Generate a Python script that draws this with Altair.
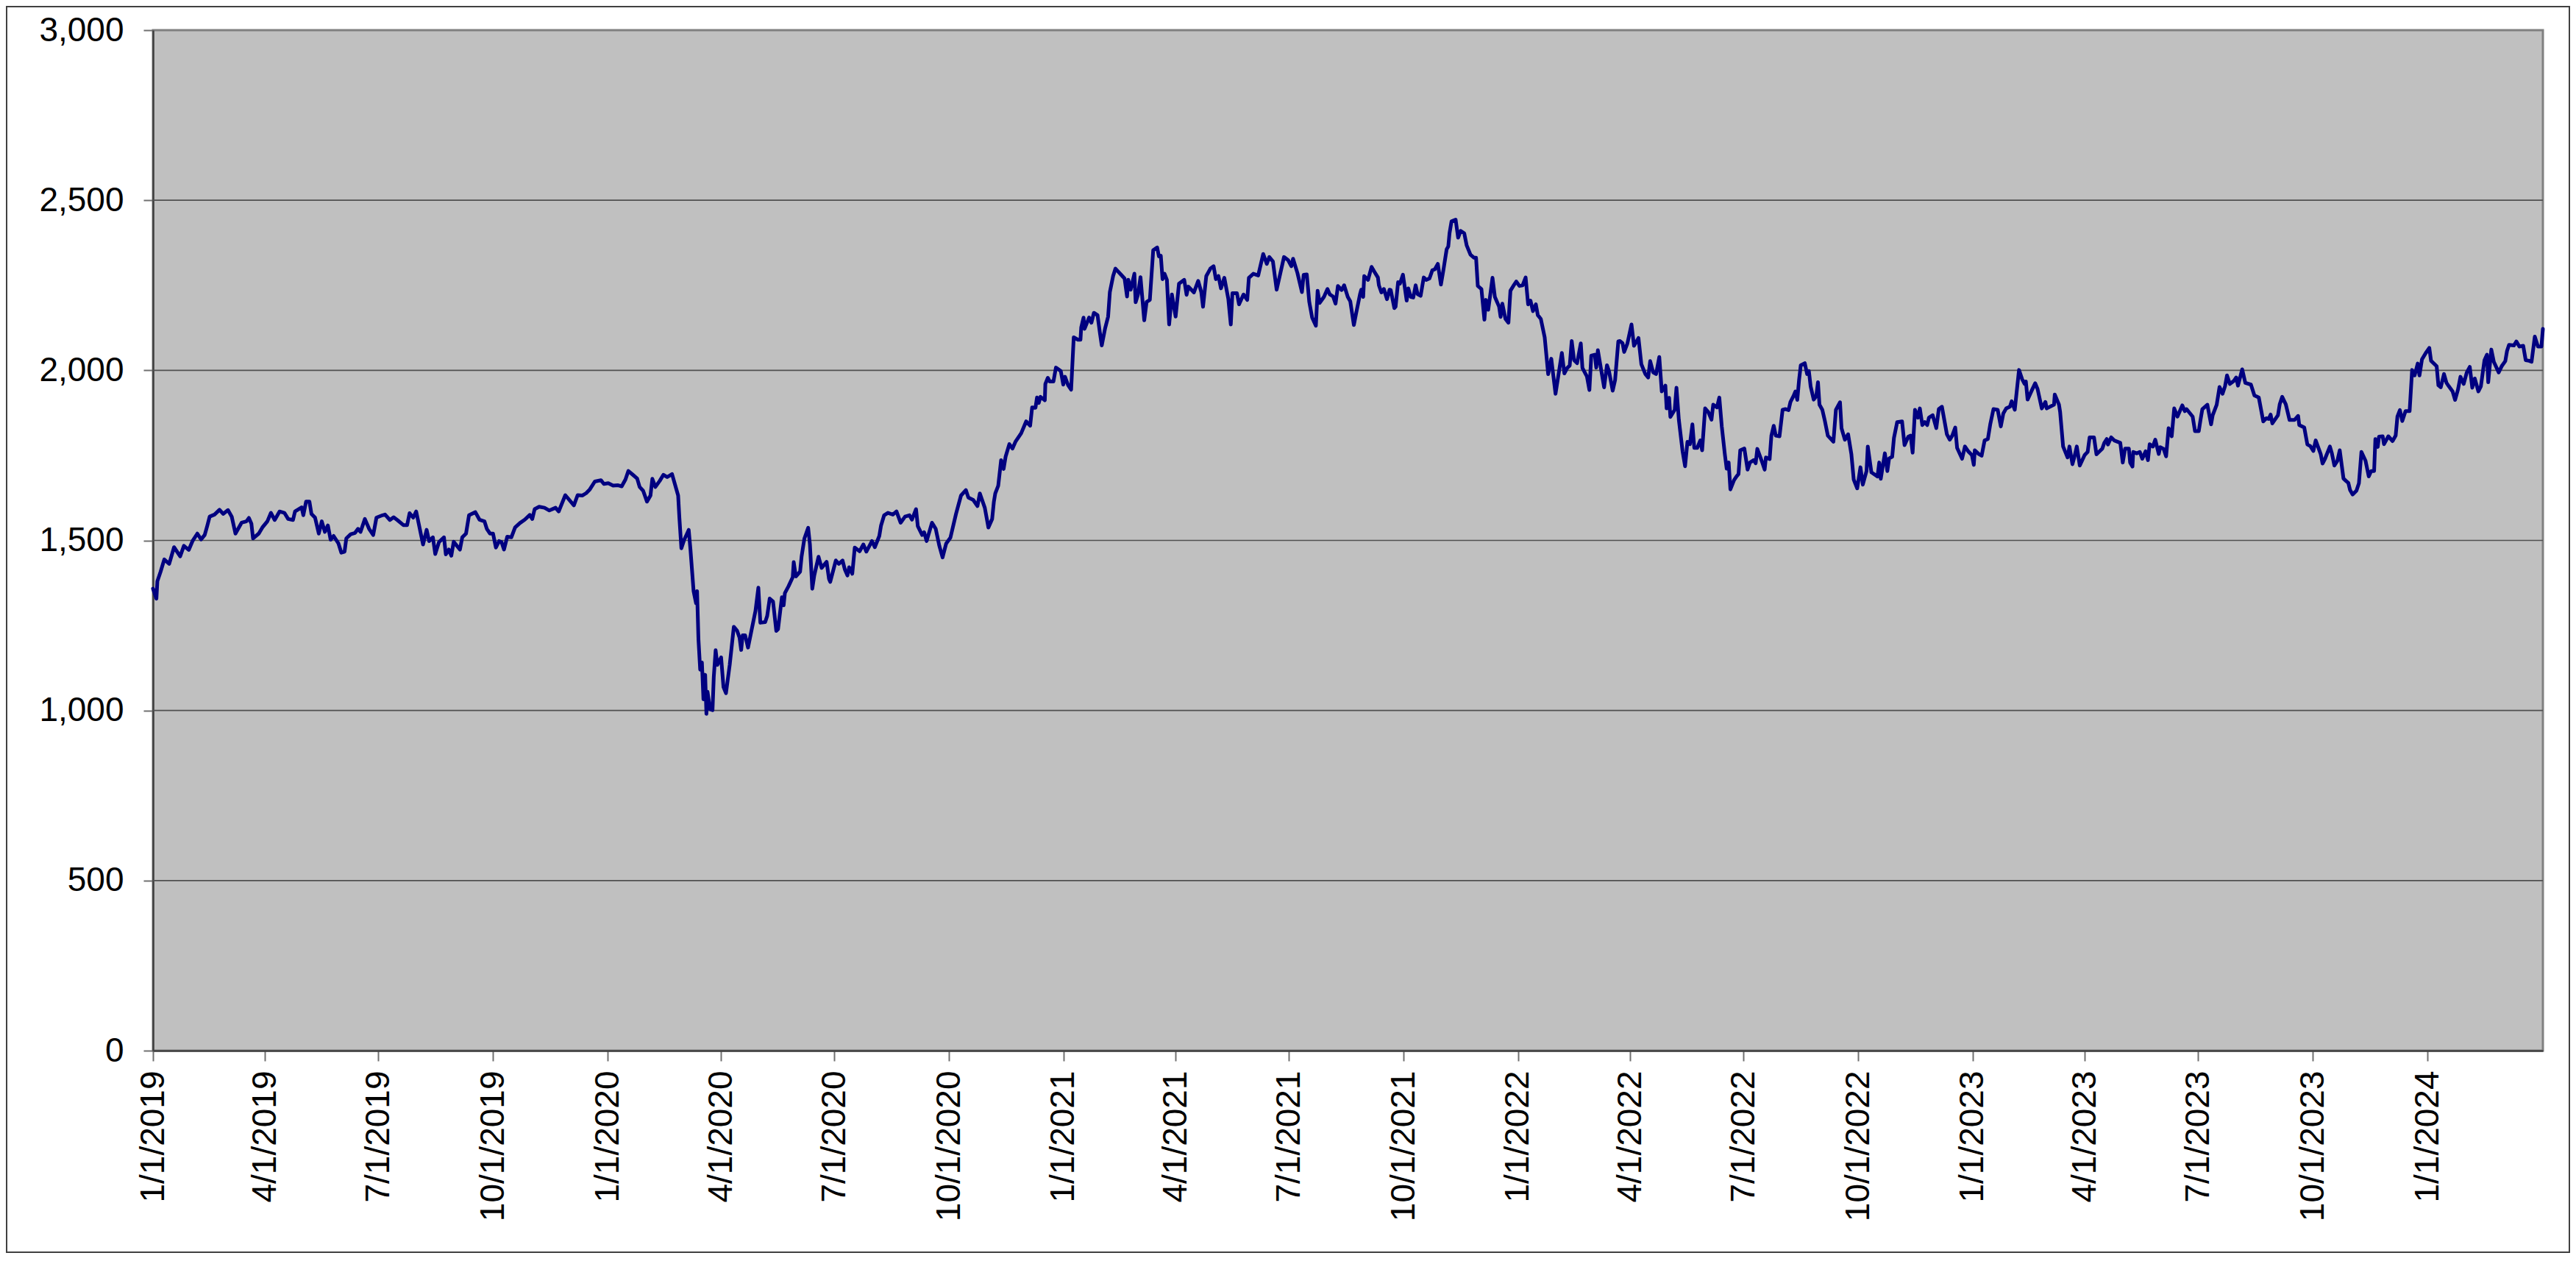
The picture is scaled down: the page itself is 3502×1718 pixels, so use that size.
import altair as alt
import pandas as pd

# x values are days after 1/1/2019; y values are index levels
START = "2019-01-01"

days_a = [0, 2.75, 3.5, 6.1, 9.05, 13.0, 16.9, 21.8, 24.8, 28.7, 31.7, 35.6, 38.6, 41.5, 43.5, 45.5,
          49.4, 53.4, 56.3, 60.2, 63.2, 66.2, 71.1, 75, 77, 79, 80.3, 84.9, 87.8, 91.8, 94.7, 97.7,
          101.6, 105.5, 108.5, 112.4, 114, 119.3, 120.7, 122.9, 125.6, 127.2, 130.1, 133.1, 135.5,
          138, 140.4, 142.6, 145, 148.9, 151.2, 153.8, 155.2, 158.7, 162.2, 164.6, 166.6, 170.1,
          173.5, 176.8, 179.4, 184.3, 186.3, 190.2, 193.2, 196.1, 201, 204, 206, 208.9, 211.3,
          216.8, 219.7, 221.7, 224.7, 226.6, 229.6]
vals_a = [1358, 1329, 1380, 1408, 1444, 1431, 1480, 1453, 1484, 1472, 1498, 1520, 1503, 1516, 1542, 1570,
          1576, 1590, 1578, 1589, 1570, 1520, 1552, 1556, 1566, 1549, 1506, 1520, 1538, 1556, 1581, 1560,
          1585, 1581, 1563, 1560, 1585, 1597, 1574, 1614, 1614, 1578, 1567, 1520, 1556,
          1525, 1544, 1502, 1513, 1491, 1464, 1467, 1506, 1518, 1522, 1534, 1525, 1563,
          1534, 1516, 1567, 1574, 1576, 1560, 1568, 1560, 1545, 1545, 1580, 1567, 1585,
          1488, 1531, 1498, 1509, 1460, 1495]

days_b = [233.6, 235.1, 237.5, 239.5, 241.4, 246.4, 248.3, 251.3, 253.7, 258.8, 262.1, 266.1, 268,
          270.6, 273, 275.3, 277.9, 279.8, 281.8, 284.4, 287.7, 290.7, 294.6, 298.5, 302.5, 304.5,
          306.4, 310, 314.3, 318.2, 323.2, 325.7, 331, 337.9, 340.9, 344.8, 347.8, 350.7, 354.7,
          359.6, 362, 365.5, 369.4, 373.4, 376.3, 379.3, 381.6, 385.2, 388.7, 390.7, 393.5, 396.6,
          399.4, 400.9, 403.3, 406.8, 409.8, 412.8, 416.7, 421.6, 422.6, 424.2, 426.5, 428.5, 430.1,
          431.5, 434, 436, 436.8, 437.9, 439.3, 440.7, 441.9, 443.3, 444.3, 445.2, 447.2, 449.2,
          450.2, 451.7, 453.1, 456.1, 458, 460, 463, 466.3]
vals_b = [1509, 1459, 1473, 1455, 1496, 1473, 1509, 1520, 1574, 1583, 1561, 1556, 1534,
          1520, 1520, 1479, 1498, 1495, 1473, 1511, 1509, 1538, 1551, 1561, 1575, 1563,
          1592, 1599, 1596, 1588, 1596, 1585, 1633, 1603, 1633, 1632, 1639, 1650, 1673,
          1677, 1666, 1668, 1661, 1662, 1659, 1679, 1704, 1693, 1682, 1657, 1646, 1614,
          1632, 1681, 1657, 1675, 1693, 1686, 1695, 1632, 1567, 1477, 1502, 1518, 1531,
          1473, 1351, 1315, 1351, 1210, 1120, 1141, 1033, 1105, 990, 1055, 1004, 1001,
          1098, 1177, 1134, 1156, 1069, 1051, 1134, 1246]

days_c = [468.9, 470.9, 472.2, 473.4, 475.4, 477.7, 483.7, 486, 487.6, 491.5, 493.1, 495.1, 497.8,
          500.4, 501.8, 504.9, 506.3, 507.3, 510.2, 513.6, 514.4, 516.1, 519.5, 520.7, 523, 526,
          527.4, 529.3, 530.9, 534.3, 536.8, 540.8, 542.7, 543.7, 548.2, 550.6, 553.6, 555.5, 557.5,
          558.9, 561.4, 563.4, 567.3, 570.3, 572.7, 575.2, 577.2, 579.5, 583.1, 584.5, 587, 590, 594,
          596.9, 600.2, 603.8, 607.3, 609.3, 612.6, 614, 617.5, 619.1, 621.1, 625.4, 628.4, 631.3,
          633.9, 636.8, 640.2, 644.7, 648.7, 652.6, 654.6, 658.5, 661.9, 663.8, 667.8, 670.7, 673.7,
          675.1, 676.2, 678.6, 680.9, 682.9, 684.5, 687.5, 690, 692.4, 697, 701]
vals_c = [1235, 1214, 1178, 1221, 1221, 1185, 1293, 1361, 1258, 1260, 1278, 1329, 1320,
          1234, 1239, 1333, 1309, 1345, 1365, 1392, 1436, 1394, 1408, 1452, 1506, 1537,
          1488, 1358, 1397, 1452, 1419, 1437, 1387, 1378, 1441, 1431, 1441, 1414, 1397,
          1421, 1402, 1479, 1468, 1488, 1467, 1484, 1498, 1480, 1513, 1544, 1574, 1581, 1576,
          1585, 1552, 1570, 1574, 1561, 1592, 1542, 1516, 1524, 1498, 1552, 1534, 1484,
          1450, 1491, 1508, 1578, 1632, 1648, 1626, 1619, 1601, 1638, 1596, 1538, 1563,
          1614, 1638, 1661, 1736, 1710, 1746, 1783, 1770, 1790, 1815, 1850]

days_d = [704.2, 705.8, 708.5, 709.7, 711.1, 712.5, 716, 716.4, 718.4, 720, 722.9, 724.9, 728.8,
          730.8, 732.2, 734.7, 737.1, 739.2, 742.6, 744.6, 745.2, 747.1, 747.9, 751.5, 753.4, 755.4,
          758.3, 760.3, 761.7, 764.3, 766.8, 768.2, 770.8, 772.7, 775.5, 780, 782, 783, 784.9, 787.9,
          788.9, 790.8, 792.8, 795.8, 797.7, 800.3, 803, 806.2, 807.6, 809.1, 810.5, 812.1, 814,
          815.8, 818, 821, 823.7, 827.9, 829.8, 831.2, 835.7, 839.1, 841.6, 843, 845.6, 848.9,
          851.5, 853.3, 855.4, 857.4, 860.1, 863.3, 865.3, 866.6, 870.2, 871.9, 875.5, 878.5, 879.8,
          883.4, 887.3, 891.3, 894.2, 896.2, 899.1, 902.1, 905, 908, 911.3, 913.9, 915.3, 918.8,
          922.4, 923.8, 926.3, 928.3, 930.6, 933.6, 935, 936.6, 940.1]
vals_d = [1837, 1891, 1890, 1920, 1904, 1922, 1912, 1960, 1978, 1967, 1967, 2008, 1998,
          1958, 1981, 1956, 1943, 2097, 2090, 2090, 2126, 2155, 2122, 2155, 2140, 2169,
          2162, 2108, 2073, 2122, 2158, 2230, 2277, 2299, 2288, 2270, 2217, 2266, 2237, 2284,
          2200, 2223, 2274, 2147, 2201, 2207, 2353, 2361, 2335, 2337, 2268, 2284, 2266,
          2135, 2223, 2158, 2255, 2266, 2222, 2246, 2229, 2263, 2230, 2187, 2277, 2299,
          2306, 2268, 2277, 2241, 2272, 2210, 2135, 2227, 2227, 2194, 2223, 2207, 2272,
          2284, 2279, 2342, 2313, 2333, 2320, 2237, 2284, 2333, 2324, 2306, 2328, 2286,
          2230, 2281, 2282, 2201, 2155, 2131, 2234, 2198, 2216]

days_e = [942.9, 944.8, 947.4, 949.4, 951.3, 954.3, 956.3, 959.2, 961.2, 964.1, 966.1, 969, 970,
          971.6, 972.4, 975.5, 978.3, 980.9, 983.4, 984.2, 986.2, 988.2, 990.7, 992.7, 993.7, 996.6,
          997.6, 999.6, 1001.1, 1003.5, 1006.5, 1007.8, 1009.8, 1011.8, 1013.7, 1015.3, 1017.7,
          1020.2, 1022.2, 1024.8, 1027.1, 1029.1, 1031.5, 1034, 1036, 1038.6, 1039.9, 1040.9,
          1042.5, 1045.8, 1047.8, 1049.8, 1052.7, 1054.7, 1057.7, 1060.6, 1062.2, 1063.6, 1066.5,
          1068.9, 1070.1, 1072, 1075.4, 1077.3, 1080.7, 1081.9, 1083.3, 1085.8, 1088.2, 1089.8,
          1092.1, 1094.5, 1097, 1099.6, 1102, 1104, 1105.9, 1107.9, 1110.2, 1111.8, 1114.2, 1117.3,
          1120.1, 1122.6, 1126, 1131.1, 1133.1, 1135.4, 1137.4, 1139, 1140.9, 1143.3, 1146.3,
          1147.6, 1151.2, 1153.2, 1154.7, 1157.5, 1158.7, 1160, 1165, 1167.3, 1168.9, 1171.9,
          1173.8, 1176.4]
vals_e = [2239, 2223, 2217, 2196, 2248, 2236, 2250, 2216, 2203, 2133, 2171, 2223, 2237,
          2216, 2277, 2266, 2304, 2288, 2273, 2250, 2229, 2239, 2209, 2237, 2236, 2183,
          2187, 2259, 2255, 2281, 2205, 2241, 2216, 2214, 2250, 2224, 2219,
          2273, 2266, 2270, 2294, 2297, 2313, 2252, 2295, 2356, 2364, 2403,
          2438, 2443, 2390, 2410, 2403, 2367, 2340, 2331, 2331, 2248, 2239,
          2149, 2207, 2178, 2272, 2216, 2187, 2157, 2196, 2151, 2140, 2234,
          2248, 2261, 2248, 2250, 2273, 2194, 2205, 2174, 2194, 2162, 2151, 2097,
          1989, 2034, 1931, 2051, 1991, 2007, 2014, 2086, 2030, 2021, 2079,
          2007, 1982, 1942, 2043, 2046, 2008, 2059, 1950, 2015, 1998, 1940,
          1971, 2085]

days_f = [1177.8, 1179.8, 1181.1, 1183.7, 1187, 1189, 1192.6, 1194.9, 1198.1, 1200.4, 1202, 1204.4,
          1206.7, 1209.3, 1211.3, 1214.2, 1215.2, 1217.2, 1218.2, 1221.7, 1223.1, 1225, 1228, 1230,
          1231.9, 1233.9, 1235.9, 1237.4, 1239.8, 1242.2, 1243.7, 1246.1, 1248.7, 1251.2, 1252.6,
          1255.6, 1257.5, 1259.5, 1261.9, 1263.4, 1265, 1266.4, 1269.3, 1271.3, 1272.9, 1274.3,
          1277.6, 1280.2, 1282.1, 1285.1, 1286.7, 1288, 1290, 1292, 1293.9, 1294.9, 1297.9, 1299.3,
          1301.2, 1302.8, 1305.8, 1308.3, 1310.7, 1313.1, 1314.6, 1317, 1318.6, 1320.1, 1321.5,
          1322.9, 1326.1, 1328, 1329.4, 1330.8, 1333.3, 1335.3, 1336.7, 1337.9, 1340.2, 1342.2,
          1344.6, 1349.1, 1351.1, 1354.4, 1355.6, 1358.3, 1360.9, 1363.5, 1365.4, 1368.2, 1370.8,
          1372.7, 1375.7, 1376.7, 1379.6, 1384.5, 1385.9, 1387.1, 1390.4, 1392.4, 1393.8, 1396.3,
          1397.7, 1400.3, 1404.2, 1406.2, 1409.2, 1411.1, 1412.7]
vals_f = [2086, 2080, 2054, 2079, 2135, 2072, 2095, 2018, 1989, 1979, 2027, 1994,
          1989, 2039, 1938, 1955, 1888, 1919, 1863, 1884, 1949, 1855, 1762, 1718,
          1790, 1783, 1841, 1772, 1772, 1794, 1765, 1888, 1877, 1855, 1899,
          1891, 1920, 1834, 1754, 1711, 1729, 1650, 1677, 1688, 1695, 1765,
          1770, 1708, 1729, 1736, 1727, 1769, 1749, 1729, 1708, 1744, 1739, 1808,
          1837, 1808, 1806, 1884, 1886, 1883, 1907, 1924, 1938, 1913, 1971,
          2015, 2021, 1989, 1998, 1953, 1914, 1924, 1965, 1899, 1884, 1852,
          1808, 1790, 1884, 1906, 1830, 1796, 1812, 1754, 1679, 1653, 1715,
          1664, 1704, 1776, 1700, 1688, 1729, 1681, 1756, 1704, 1741, 1746,
          1801, 1848, 1850, 1780, 1805, 1808, 1758]

days_g = [1414.6, 1416.9, 1418.5, 1420.5, 1422.5, 1424.4, 1425.8, 1428.8, 1431.7, 1433.7, 1436.2,
          1440.2, 1442.5, 1444.5, 1446.9, 1448.4, 1452.4, 1454.7, 1457.3, 1460.3, 1461.8, 1462.6,
          1465.8, 1468.1, 1470.5, 1473.1, 1475, 1477.6, 1481, 1483.5, 1485.5, 1487.8, 1490.8, 1492.2,
          1494.7, 1498.1, 1500.6, 1502.6, 1503.6, 1505, 1508.5, 1511.1, 1513, 1516.4, 1519.3, 1520.3,
          1526.2, 1526.8, 1530.2, 1531.1, 1533.5, 1537.1, 1538.6, 1541, 1542.6, 1544.5, 1546.9,
          1550.8, 1553.2, 1554.8, 1558.3, 1560.3, 1565, 1566.6, 1568.6, 1569.5, 1572.1, 1574.5,
          1579.4, 1581.4, 1583.3, 1586.3, 1587.3, 1589.2, 1589.8, 1592.6, 1595.1, 1597.1, 1599.7,
          1601.6, 1603, 1605.6, 1607.5, 1610.3, 1611.5, 1614.2, 1616.2, 1618.2, 1620.7, 1622.7,
          1625.3, 1629.2, 1631.2, 1632.6, 1637.5, 1639.4, 1642.4, 1643.8, 1645.3, 1649.3]
vals_g = [1884, 1861, 1888, 1839, 1848, 1839, 1861, 1868, 1830, 1886, 1893,
          1812, 1796, 1808, 1832, 1772, 1740, 1776, 1762, 1751, 1722, 1765,
          1754, 1749, 1794, 1798, 1841, 1886, 1884, 1835, 1873, 1888, 1893, 1909,
          1884, 2001, 1974, 1960, 1967, 1914, 1942, 1962, 1945, 1888, 1907, 1888,
          1899, 1929, 1899, 1878, 1776, 1744, 1776, 1724, 1746, 1776, 1720,
          1751, 1760, 1803, 1803, 1753, 1770, 1787, 1798, 1782, 1803, 1794,
          1787, 1729, 1770, 1770, 1729, 1717, 1760, 1756, 1760, 1740, 1762,
          1736, 1783, 1776, 1796, 1754, 1774, 1769, 1747, 1830, 1806, 1888,
          1864, 1897, 1880, 1886, 1864, 1821, 1821, 1854, 1886, 1899]

days_h = [1652.3, 1653.6, 1656.8, 1659.1, 1661.5, 1663.5, 1665.1, 1667.4, 1670.6, 1672.5, 1673.9,
          1677.3, 1679.8, 1684.3, 1687.1, 1690.6, 1694.2, 1696.6, 1698.5, 1700.1, 1701.5, 1706,
          1707.4, 1709.4, 1712.3, 1715.3, 1719.2, 1722.2, 1723.1, 1727.1, 1729.6, 1732, 1734.4,
          1736.3, 1740.3, 1741.8, 1743.8, 1747.7, 1749.3, 1751.3, 1753.7, 1755.6, 1758.6, 1760.6,
          1762.5, 1763.9, 1765.9, 1769, 1771, 1773, 1776.3, 1778.9, 1780.8, 1783.2, 1784.2, 1786.1,
          1787.1, 1790.1, 1791.1, 1794.6, 1798, 1800.5, 1801.9, 1803.9, 1805.8, 1808.4, 1811.7,
          1813.7, 1815.7, 1818.2, 1819.6, 1821.6, 1824.5, 1827.5, 1828.9, 1833.4, 1834.8, 1836.7,
          1839.3, 1841.3, 1843.2, 1846.2, 1848.2, 1850.5, 1852.5, 1855.1, 1857.6, 1860, 1862, 1864,
          1866.9, 1868.9, 1871.8, 1873.8, 1874.8, 1877.3, 1879.3, 1883.2, 1885.6, 1888.5, 1889.9,
          1891.5, 1895.4, 1897.4, 1899.8, 1902.9, 1904.9, 1907.6, 1909.6, 1912.2, 1914.7, 1917.5,
          1918.7]
vals_h = [1841, 1868, 1899, 1951, 1931, 1953, 1985, 1960, 1969, 1979, 1955,
          2003, 1963, 1958, 1926, 1920, 1850, 1859, 1857, 1870, 1844, 1868,
          1900, 1922, 1900, 1854, 1854, 1866, 1839, 1832, 1782, 1777, 1763,
          1794, 1754, 1726, 1740, 1776, 1756, 1720, 1734, 1765, 1682, 1675,
          1669, 1648, 1635, 1646, 1668, 1760, 1734, 1688, 1704, 1704, 1798, 1775,
          1805, 1806, 1783, 1806, 1792, 1808, 1864, 1883, 1851, 1880, 1880,
          2001, 1985, 2020, 1985, 2032, 2050, 2066, 2028, 2012, 1956, 1950,
          1989, 1963, 1953, 1938, 1913, 1943, 1981, 1960, 1994, 2010, 1949, 1976,
          1938, 1953, 2030, 2046, 1965, 2061, 2025, 1994, 2012, 2027, 2057,
          2075, 2073, 2085, 2070, 2072, 2030, 2028, 2025, 2099, 2070, 2070,
          2122]

y_ticks = [0, 500, 1000, 1500, 2000, 2500, 3000]
grid_values = [500, 1000, 1500, 2000, 2500]
x_tick_labels = ["1/1/2019", "4/1/2019", "7/1/2019", "10/1/2019",
                 "1/1/2020", "4/1/2020", "7/1/2020", "10/1/2020",
                 "1/1/2021", "4/1/2021", "7/1/2021", "10/1/2021",
                 "1/1/2022", "4/1/2022", "7/1/2022", "10/1/2022",
                 "1/1/2023", "4/1/2023", "7/1/2023", "10/1/2023",
                 "1/1/2024"]

days = days_a + days_b + days_c + days_d + days_e + days_f + days_g + days_h
vals = vals_a + vals_b + vals_c + vals_d + vals_e + vals_f + vals_g + vals_h

dates = pd.Timestamp(START) + pd.to_timedelta(days, unit="D")
df = pd.DataFrame({"date": dates.strftime("%Y-%m-%dT%H:%M:%S"), "value": vals})


def to_dt(ts):
    return alt.DateTime(year=ts.year, month=ts.month, date=ts.day,
                        hours=ts.hour, minutes=ts.minute, seconds=ts.second)


tick_values = []
for lbl in x_tick_labels:
    m, d, y = lbl.split("/")
    tick_values.append(alt.DateTime(year=int(y), month=int(m), date=int(d)))

x_domain = [to_dt(dates.min()), to_dt(dates.max())]

W, H = 3249, 1387
PAD = {"left": 200, "top": 33, "right": 37, "bottom": 275}
FONT = "Liberation Sans, Arial, sans-serif"

x_axis = alt.Axis(values=tick_values, format="%-m/%-d/%Y", labelAngle=270, title=None,
                  grid=False, labelFont=FONT, labelFontSize=46, labelColor="black",
                  labelLimit=0,
                  tickSize=14, tickColor="#707070", tickWidth=2,
                  domainColor="#404040", domainWidth=2.5, labelPadding=13,
                  labelOverlap=False, labelFlush=False, labelBound=False)
y_axis = alt.Axis(values=y_ticks, format=",d", title=None, grid=False,
                  labelFont=FONT, labelFontSize=46, labelColor="black",
                  labelLimit=0,
                  tickSize=13, tickColor="#707070", tickWidth=2,
                  domainColor="#404040", domainWidth=2.5, labelPadding=27)

x_enc = alt.X("date:T", scale=alt.Scale(domain=x_domain, nice=False), axis=x_axis)
y_enc = alt.Y("value:Q", scale=alt.Scale(domain=[0, 3000], nice=False), axis=y_axis)

grid = alt.Chart(pd.DataFrame({"value": grid_values})).mark_rule(
    color="#505050", strokeWidth=1.6
).encode(y=alt.Y("value:Q"))

line = alt.Chart(df).mark_line(
    color="#000080", strokeWidth=5, strokeJoin="round", strokeCap="round"
).encode(x=x_enc, y=y_enc)

frame = alt.Chart(pd.DataFrame({"a": [0]})).mark_rect(
    fill="white", fillOpacity=0, stroke="#404040", strokeWidth=2
).encode(
    x=alt.value(-PAD["left"] + 1), x2=alt.value(W + PAD["right"] - 1),
    y=alt.value(-PAD["top"] + 1), y2=alt.value(H + PAD["bottom"] - 1)
)

chart = alt.layer(grid, line, frame).properties(
    width=W, height=H, padding=PAD,
    autosize=alt.AutoSizeParams(type="none"),
    background="white",
).configure_view(fill="#C0C0C0", stroke="#808080", strokeWidth=3)

chart.save("out.html", embed_options={"renderer": "svg", "actions": False})
